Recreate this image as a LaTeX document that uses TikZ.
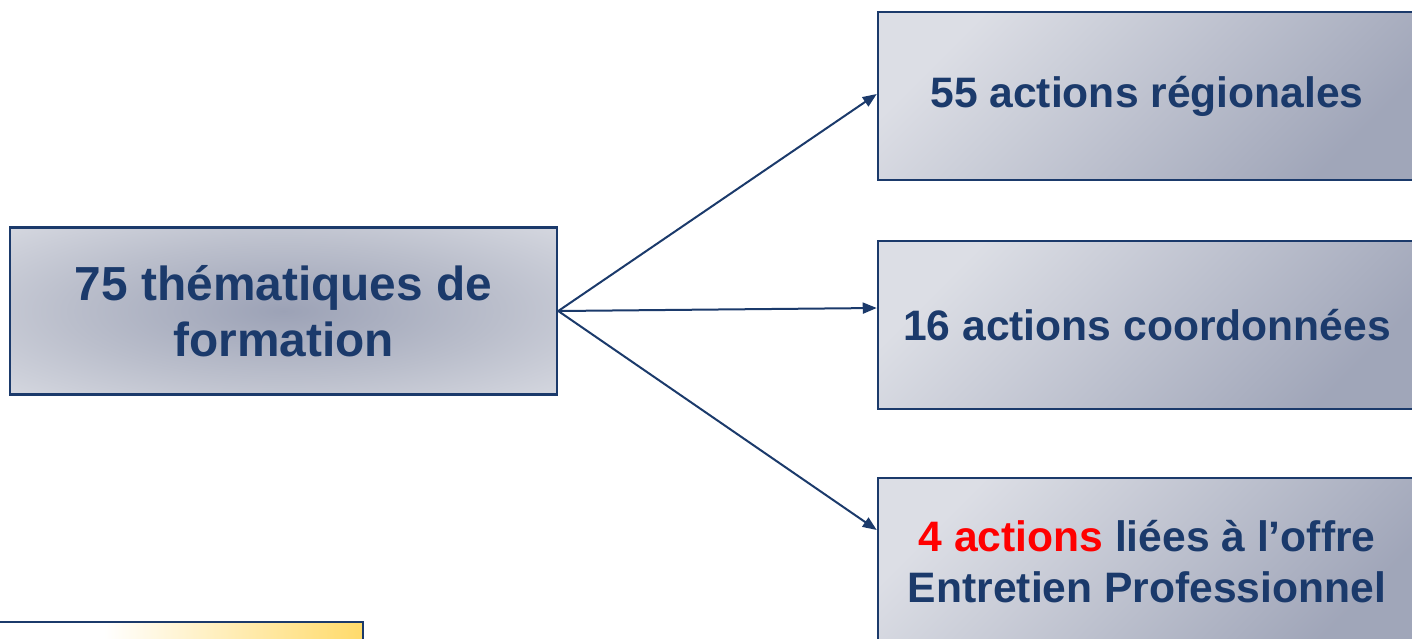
\documentclass[tikz,border=0pt]{standalone}
\usepackage{fontspec}
\setmainfont{Liberation Sans}
\usetikzlibrary{arrows.meta,positioning,shadings}
\definecolor{navy}{HTML}{1B3A6B}
\definecolor{boxlight}{HTML}{DCDEE5}
\definecolor{boxmid}{HTML}{C8CBD5}
\definecolor{boxdark}{HTML}{9CA2B6}
\definecolor{gold}{HTML}{FFC000}
\pgfdeclareradialshading{softcenter}{\pgfpoint{0bp}{0bp}}{color(0bp)=(boxdark); color(20bp)=(boxmid!70!boxdark); color(40bp)=(boxlight); color(50bp)=(boxlight)}
\pgfdeclarehorizontalshading{notefade}{100bp}{color(0bp)=(gold!15); color(8bp)=(white); color(40bp)=(white); color(100bp)=(gold)}
\begin{document}
\begin{tikzpicture}[x=1pt,y=-1pt]
    \tikzset{block/.style= {draw=navy, rectangle
    , line width=2.5pt
    , minimum width=538pt
    , minimum height=168pt
    , inner sep=0pt
    , align=center
    , text=navy
    , font=\fontsize{42.6}{51}\selectfont\bfseries
      }
    , sideblock/.style= {block
    , top color=boxlight, middle color=boxmid, bottom color=boxdark!90!boxmid
    , shading angle=45
      }
    , link/.style= {draw=navy, line width=2pt
    , -{Triangle[length=14pt,width=11pt]}
      }
    }

\useasboundingbox (0,0) rectangle (1412,638);
\clip (0,0) rectangle (1412,638);

\node [block, minimum width=547pt, minimum height=167pt
      , shading=softcenter, font=\fontsize{47.8}{56}\selectfont\bfseries] (theme) at (283.5,311) {75 thématiques de\\formation};
\node [sideblock] (reg) at (1147,96) {55 actions régionales};
\node [sideblock] (coord) at (1147,325) {16 actions coordonnées};
\node [sideblock] (entr) at (1147,562) {\textcolor{red}{4 actions} liées à l’offre\\Entretien Professionnel};
\node [draw=navy, line width=2.5pt, minimum width=370pt, minimum height=60pt
      , shading=notefade] (note) at (178,652) {};

 \path[link] (theme.east) -- ([yshift=2pt]reg.west);
 \path[link] (theme.east) -- ([yshift=17pt]coord.west);
 \path[link] (theme.east) -- ([yshift=32pt]entr.west);
\end{tikzpicture}
\end{document}
